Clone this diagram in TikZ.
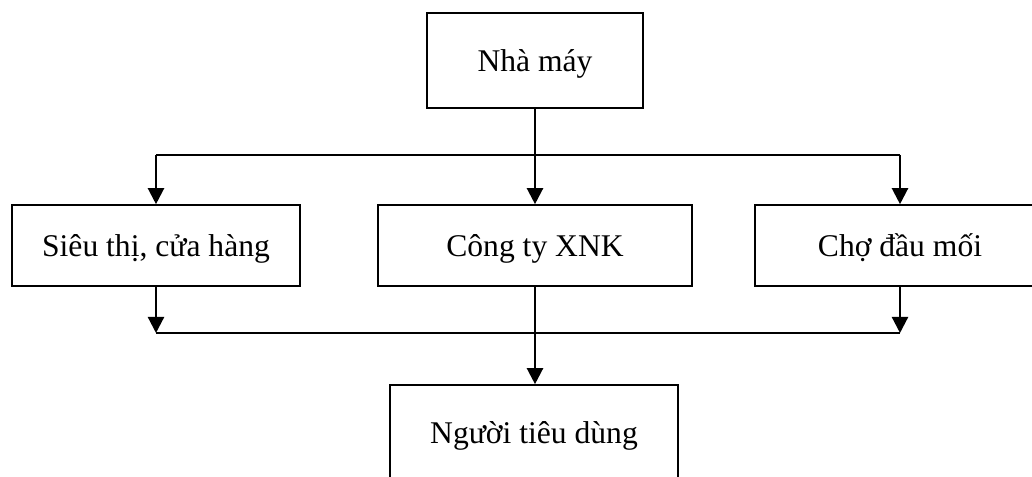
\documentclass[tikz,border=0pt]{standalone}
\usepackage{fontspec}
\setmainfont{Liberation Serif}
\usetikzlibrary{arrows.meta,calc}
\tikzset{
  box/.style  = {draw, line width=1.2pt, align=center, inner sep=2pt, text depth=0pt,
                 font=\fontsize{23.7}{28}\selectfont, minimum height=60.75pt},
  bigbox/.style = {box, minimum height=71.25pt},
  ln/.style   = {line width=1.1pt},
  ar/.style   = {-{Triangle[length=12pt,width=12pt]}, line width=1.7pt}
}

\begin{document}
\begin{tikzpicture}[x=0.75pt, y=0.75pt]
\useasboundingbox (0,0) rectangle (1032,477);
% ---- boxes ----
\node[bigbox, minimum width=162pt]   (nm) at (535,416.5) {Nhà máy};
\node[box, minimum width=216pt]      (st) at (156,231.5) {Siêu thị, cửa hàng};
\node[box, minimum width=235.5pt]    (ct) at (535,231.5) {Công ty XNK};
\node[box, minimum width=217.5pt]    (cd) at (900,231.5) {Chợ đầu mối};
\node[bigbox, minimum width=216pt]   (nt) at (534,44.5)  {Người tiêu dùng};

% ---- upper bus ----
\coordinate (upbus) at (535,322);
\coordinate (upL) at (st.north |- upbus);
\coordinate (upR) at (cd.north |- upbus);
\draw[ln] (upL) -- (upR);
\draw[ar] (nm.south) -- (ct.north);
\draw[ar] (upL) -- (st.north);
\draw[ar] (upR) -- (cd.north);

% ---- lower bus ----
\coordinate (lowbus) at (535,144);
\coordinate (lowL) at (st.south |- lowbus);
\coordinate (lowR) at (cd.south |- lowbus);
\draw[ln] (lowL) -- (lowR);
\draw[ar] (st.south) -- (lowL);
\draw[ar] (cd.south) -- (lowR);
\draw[ar] (ct.south) -- (nt.north -| ct.south);
\end{tikzpicture}
\end{document}
